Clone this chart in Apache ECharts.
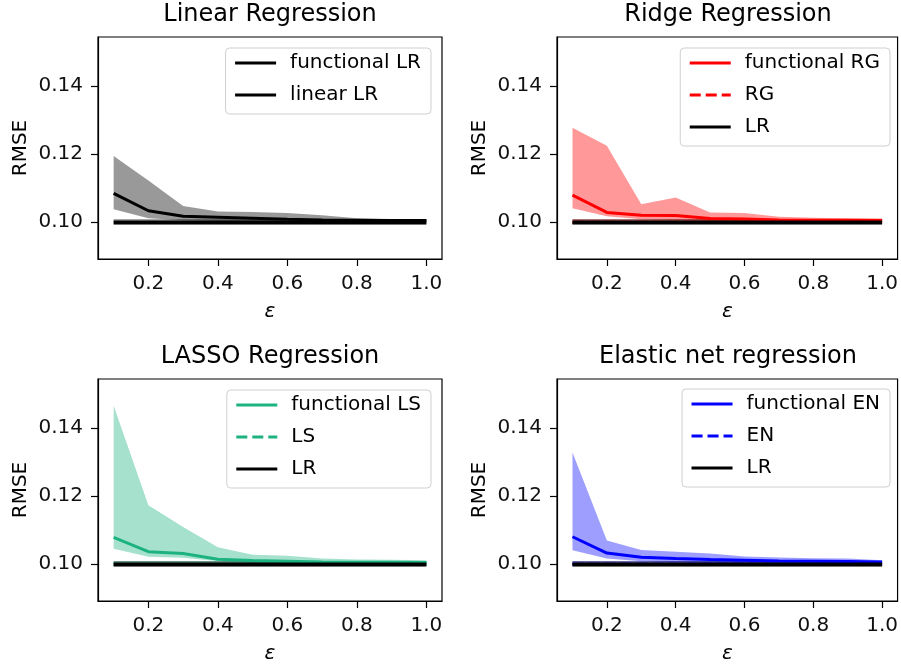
<!DOCTYPE html>
<html>
<head>
<meta charset="utf-8">
<script src="https://cdn.jsdelivr.net/npm/echarts@6/dist/echarts.min.js"></script>
<style>
  html, body { margin: 0; padding: 0; background: #fff; }
  #chart { width: 901px; height: 665px; }
</style>
</head>
<body>
<div id="chart"></div>
<script>
// epsilon values (x)
var eps = [0.1, 0.2, 0.3, 0.4, 0.5, 0.6, 0.7, 0.8, 0.9, 1.0];
var xTicks = [0.2, 0.4, 0.6, 0.8, 1.0];
var yTicks = [0.10, 0.12, 0.14];

// baseline linear regression (black)
var lrLine = [0.0998, 0.0998, 0.0998, 0.0998, 0.0998, 0.0998, 0.0998, 0.0998, 0.0998, 0.0998];
var lrLineLow = [0.0993, 0.0993, 0.0993, 0.0993, 0.0993, 0.0993, 0.0993, 0.0993, 0.0993, 0.0993];
var lrLineHigh = [0.1009, 0.1009, 0.1009, 0.1009, 0.1009, 0.1009, 0.1009, 0.1009, 0.1009, 0.1009];

// linear regression
var lrFunc = [0.1084, 0.1033, 0.1017, 0.1014, 0.1011, 0.1008, 0.1006, 0.1005, 0.1004, 0.1004];
var lrFuncLow = [0.1037, 0.1011, 0.1005, 0.1003, 0.1002, 0.1002, 0.1001, 0.1001, 0.1001, 0.1001];
var lrFuncHigh = [0.1194, 0.1122, 0.1047, 0.1031, 0.1029, 0.1026, 0.1020, 0.1011, 0.1008, 0.1007];

// ridge
var rgFunc = [0.1079, 0.1028, 0.1020, 0.1019, 0.1010, 0.1009, 0.1006, 0.1005, 0.1005, 0.1004];
var rgFuncLow = [0.1040, 0.1017, 0.1008, 0.1006, 0.1003, 0.1002, 0.1002, 0.1001, 0.1001, 0.1001];
var rgFuncHigh = [0.1277, 0.1224, 0.1052, 0.1072, 0.1028, 0.1026, 0.1015, 0.1012, 0.1011, 0.1010];
var rgLine = [0.0999, 0.0999, 0.0999, 0.0999, 0.0999, 0.0999, 0.0999, 0.0999, 0.0999, 0.0999];
var rgLineLow = [0.0994, 0.0994, 0.0994, 0.0994, 0.0994, 0.0994, 0.0994, 0.0994, 0.0994, 0.0994];
var rgLineHigh = [0.1008, 0.1008, 0.1008, 0.1008, 0.1008, 0.1008, 0.1008, 0.1008, 0.1008, 0.1008];

// lasso
var lsFunc = [0.1078, 0.1036, 0.1031, 0.1014, 0.1010, 0.1008, 0.1006, 0.1005, 0.1005, 0.1004];
var lsFuncLow = [0.1045, 0.1021, 0.1018, 0.1009, 0.1003, 0.1002, 0.1002, 0.1002, 0.1001, 0.1001];
var lsFuncHigh = [0.1465, 0.1173, 0.1109, 0.1049, 0.1027, 0.1024, 0.1016, 0.1013, 0.1012, 0.1011];
var lsLine = [0.0999, 0.0999, 0.0999, 0.0999, 0.0999, 0.0999, 0.0999, 0.0999, 0.0999, 0.0999];
var lsLineLow = [0.0994, 0.0994, 0.0994, 0.0994, 0.0994, 0.0994, 0.0994, 0.0994, 0.0994, 0.0994];
var lsLineHigh = [0.1009, 0.1009, 0.1009, 0.1009, 0.1009, 0.1009, 0.1009, 0.1009, 0.1009, 0.1009];

// elastic net
var enFunc = [0.1080, 0.1032, 0.1020, 0.1016, 0.1013, 0.1011, 0.1009, 0.1008, 0.1007, 0.1006];
var enFuncLow = [0.1040, 0.1016, 0.1008, 0.1005, 0.1003, 0.1003, 0.1002, 0.1002, 0.1002, 0.1001];
var enFuncHigh = [0.1328, 0.1069, 0.1041, 0.1036, 0.1031, 0.1022, 0.1019, 0.1017, 0.1016, 0.1011];
var enLine = [0.0999, 0.0999, 0.0999, 0.0999, 0.0999, 0.0999, 0.0999, 0.0999, 0.0999, 0.0999];
var enLineLow = [0.0994, 0.0994, 0.0994, 0.0994, 0.0994, 0.0994, 0.0994, 0.0994, 0.0994, 0.0994];
var enLineHigh = [0.1009, 0.1009, 0.1009, 0.1009, 0.1009, 0.1009, 0.1009, 0.1009, 0.1009, 0.1009];

var FONT = 'DejaVu Sans';

var panels = [
	{ title: 'Linear Regression', grid: [98, 37, 344, 222], legendRight: 470, legendTop: 48,
	  color: '#000000', fill: 'rgba(0,0,0,0.4)', func: lrFunc, low: lrFuncLow, high: lrFuncHigh,
	  funcName: 'functional LR', dashName: null, lrName: 'linear LR' },
	{ title: 'Ridge Regression', grid: [557, 37, 342, 222], legendRight: 11, legendTop: 48,
	  color: '#ff0000', fill: 'rgba(255,0,0,0.4)', func: rgFunc, low: rgFuncLow, high: rgFuncHigh,
	  dash: rgLine, dashLow: rgLineLow, dashHigh: rgLineHigh,
	  funcName: 'functional RG', dashName: 'RG', lrName: 'LR' },
	{ title: 'LASSO Regression', grid: [98, 379, 344, 222], legendRight: 470, legendTop: 390,
	  color: '#1db380', fill: 'rgba(29,179,128,0.4)', func: lsFunc, low: lsFuncLow, high: lsFuncHigh,
	  dash: lsLine, dashLow: lsLineLow, dashHigh: lsLineHigh,
	  funcName: 'functional LS', dashName: 'LS', lrName: 'LR' },
	{ title: 'Elastic net regression', grid: [557, 379, 342, 222], legendRight: 11, legendTop: 389,
	  color: '#0000ff', fill: 'rgba(0,0,255,0.38)', func: enFunc, low: enFuncLow, high: enFuncHigh,
	  dash: enLine, dashLow: enLineLow, dashHigh: enLineHigh,
	  funcName: 'functional EN', dashName: 'EN', lrName: 'LR' }
];

function pairs(ys) {
	return eps.map(function (x, i) { return [x, ys[i]]; });
}

/* shaded band between low and high, drawn as one polygon */
function band(idx, key, lo, hi, fill) {
	return {
		name: key, type: 'custom', xAxisIndex: idx, yAxisIndex: idx, silent: true, z: 1,
		data: eps.map(function (x, i) { return [x, lo[i], hi[i]]; }),
		encode: { x: 0, y: [1, 2] },
		renderItem: function (params, api) {
			if (params.dataIndexInside !== 0) return;
			var n = params.dataInsideLength;
			var top = [], bottom = [];
			for (var k = 0; k < n; k++) {
				top.push(api.coord([api.value(0, k), api.value(2, k)]));
				bottom.unshift(api.coord([api.value(0, k), api.value(1, k)]));
			}
			return {
				type: 'polygon',
				shape: { points: top.concat(bottom) },
				style: { fill: fill, stroke: null }
			};
		}
	};
}

var option = {
	animation: false,
	backgroundColor: '#ffffff',
	textStyle: { fontFamily: FONT },
	title: [], grid: [], xAxis: [], yAxis: [], legend: [], series: []
};

panels.forEach(function (p, i) {
	var g = p.grid;
	option.grid.push({
		left: g[0], top: g[1], width: g[2], height: g[3],
		show: true, borderColor: '#000', borderWidth: 1.2, backgroundColor: 'transparent'
	});
	option.title.push({
		text: p.title, left: g[0] + g[2] / 2, top: g[1] - 34, textAlign: 'center', padding: 0,
		textStyle: { fontFamily: FONT, fontSize: 24, fontWeight: 'normal', color: '#000' }
	});
	option.xAxis.push({
		type: 'value', gridIndex: i, min: 0.055, max: 1.045,
		name: 'ε', nameLocation: 'middle', nameGap: 43,
		nameTextStyle: { fontFamily: FONT, fontSize: 20, fontStyle: 'italic', color: '#000' },
		axisLine: { show: true, onZero: false, lineStyle: { color: '#000', width: 1.2 } },
		axisTick: { show: true, inside: false, length: 7, customValues: xTicks, lineStyle: { color: '#000', width: 1.2 } },
		axisLabel: { customValues: xTicks, margin: 15, fontFamily: FONT, fontSize: 20, color: '#111',
			formatter: function (v) { return v.toFixed(1); } },
		splitLine: { show: false }
	});
	option.yAxis.push({
		type: 'value', gridIndex: i, min: 0.0891, max: 0.1544,
		name: 'RMSE', nameLocation: 'middle', nameGap: 67, nameRotate: 90,
		nameTextStyle: { fontFamily: FONT, fontSize: 20, color: '#000' },
		axisLine: { show: true, onZero: false, lineStyle: { color: '#000', width: 1.2 } },
		axisTick: { show: true, inside: false, length: 7, customValues: yTicks, lineStyle: { color: '#000', width: 1.2 } },
		axisLabel: { customValues: yTicks, margin: 15, fontFamily: FONT, fontSize: 20, color: '#111',
			formatter: function (v) { return v.toFixed(2); } },
		splitLine: { show: false }
	});

	var legendNames = [p.funcName];
	if (p.dashName) legendNames.push(p.dashName);
	legendNames.push(p.lrName);
	option.legend.push({
		data: legendNames, orient: 'vertical', right: p.legendRight, top: p.legendTop,
		selectedMode: false, itemWidth: 41, itemHeight: 20, itemGap: 12,
		padding: [5, 10, 9, 8], borderColor: '#d0d0d0', borderWidth: 1, borderRadius: 4,
		backgroundColor: 'rgba(255,255,255,0.8)',
		itemStyle: { opacity: 0 },
		lineStyle: { width: 3 },
		textStyle: { fontFamily: FONT, fontSize: 20, lineHeight: 20, color: '#000', padding: [0, 0, 0, 9] }
	});

	// functional band
	option.series.push(band(i, 'fband' + i, p.low, p.high, p.fill));
	// baseline bands
	if (p.dash) option.series.push(band(i, 'dband' + i, p.dashLow, p.dashHigh, p.fill));
	option.series.push(band(i, 'lband' + i, lrLineLow, lrLineHigh, 'rgba(0,0,0,0.35)'));

	option.series.push({
		name: p.funcName, type: 'line', xAxisIndex: i, yAxisIndex: i, symbol: 'none',
		data: pairs(p.func), lineStyle: { color: p.color, width: 3 }, itemStyle: { color: p.color }, z: 3
	});
	if (p.dash) {
		option.series.push({
			name: p.dashName, type: 'line', xAxisIndex: i, yAxisIndex: i, symbol: 'none',
			data: pairs(p.dash), lineStyle: { color: p.color, width: 3, type: [11, 5] }, itemStyle: { color: p.color }, z: 3
		});
	}
	option.series.push({
		name: p.lrName, type: 'line', xAxisIndex: i, yAxisIndex: i, symbol: 'none',
		data: pairs(lrLine), lineStyle: { color: '#000', width: 4 }, itemStyle: { color: '#000' }, z: 4
	});
});

var myChart = echarts.init(document.getElementById('chart'), null, { renderer: 'canvas' });
myChart.setOption(option);
</script>
</body>
</html>
